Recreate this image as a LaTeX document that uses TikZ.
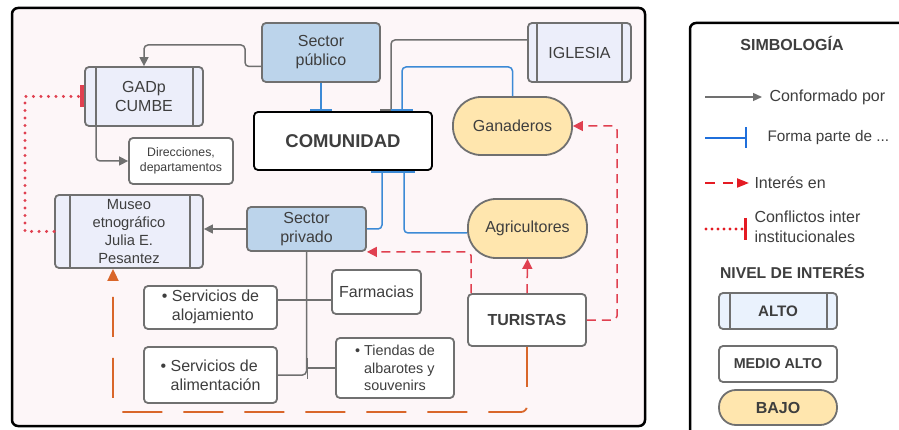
\documentclass[tikz,border=0pt]{standalone}
\usepackage{fontspec}
\setmainfont{Liberation Sans}
\usetikzlibrary{arrows.meta}
\definecolor{txt}{HTML}{3E3E3E}
\definecolor{bord}{HTML}{707070}
\definecolor{bgpink}{HTML}{FDF6F8}
\definecolor{pubblue}{HTML}{BCD4EB}
\definecolor{lav}{HTML}{ECEEFA}
\definecolor{yel}{HTML}{FFE6AE}
\definecolor{lnblue}{HTML}{3C8AD6}
\definecolor{intred}{HTML}{E04050}
\definecolor{orng}{HTML}{D9662A}
\definecolor{legblue}{HTML}{1F6FDB}
\definecolor{legred}{HTML}{E41B23}
\definecolor{altofill}{HTML}{EAF2FD}
\begin{document}
\begin{tikzpicture}[x=1pt,y=-1pt,
  font=\fontsize{16}{19}\selectfont, text=txt,
  box/.style={draw=bord, line width=1.8pt, rounded corners=4pt, inner sep=0pt, align=center},
  pubbox/.style={box, fill=pubblue},
  lavbox/.style={box, fill=lav},
  whitebox/.style={box, fill=white},
  pill/.style={box, fill=yel, rounded corners=28pt},
  conn/.style={draw=bord, line width=1.5pt, rounded corners=4pt, -{Triangle[length=9pt,width=9pt]}},
  gline/.style={draw=bord, line width=1.5pt, rounded corners=4pt},
  bline/.style={draw=lnblue, line width=1.5pt, rounded corners=4pt, -{Bar[width=22pt,line width=2pt]}},
  intr/.style={draw=intred, line width=1.5pt, dash pattern=on 9pt off 6pt, rounded corners=4pt, -{Triangle[length=10pt,width=10pt]}},
  orngln/.style={draw=orng, line width=1.8pt, dash pattern=on 40pt off 21pt, rounded corners=6pt, -{Triangle[length=12pt,width=11pt]}},
  conf/.style={draw=intred, line width=3.3pt, line cap=round, dash pattern=on 0pt off 7.5pt, -{Bar[width=22pt,line width=4pt]}},
  bigframe/.style={draw=black, line width=2.5pt, rounded corners=6pt}
]
\useasboundingbox (0,0) rectangle (899,430);
\clip (0,0) rectangle (899,430);
\fill[white] (0,0) rectangle (899,430);
\draw[bigframe, fill=bgpink] (12,8) rectangle (645,426);
\draw[bigframe, fill=white] (690,23) rectangle (920,450);

% ---- nodes ----
\node[pubbox, minimum width=118pt, minimum height=59pt] (spub) at (321,52.5) {Sector\\público};
\node[lavbox, minimum width=118pt, minimum height=59pt] (gad) at (144,96.5) {GADp\\CUMBE};
\node[whitebox, minimum width=104pt, minimum height=46pt, font=\fontsize{12.3}{15}\selectfont] (dir) at (181,161) {Direcciones,\\departamentos};
\node[lavbox, minimum width=148pt, minimum height=73pt, font=\fontsize{14.7}{17.7}\selectfont] (museo) at (129,231.5) {Museo\\etnográfico\\Julia E.\\Pesantez};
\node[whitebox, draw=black, minimum width=178pt, minimum height=58pt, font=\bfseries\fontsize{18.5}{22}\selectfont] (com) at (343,141) {COMUNIDAD};
\node[lavbox, minimum width=103pt, minimum height=59pt] (igl) at (579.5,52.5) {IGLESIA};
\node[pill, minimum width=119pt, minimum height=58pt] (gan) at (512.5,126) {Ganaderos};
\node[pill, minimum width=119pt, minimum height=59pt] (agr) at (527.5,228.5) {Agricultores};
\node[pubbox, minimum width=119pt, minimum height=44pt] (spriv) at (306.5,229) {\raisebox{-4pt}{\begin{tabular}{@{}c@{}}Sector\\privado\end{tabular}}};
\node[whitebox, minimum width=89pt, minimum height=44pt] (farm) at (376.5,292) {Farmacias};
\node[whitebox, minimum width=118pt, minimum height=60pt, align=left, font=\fontsize{14.4}{17.7}\selectfont] (tiend) at (395,368) {• Tiendas de\\\phantom{• }albarotes y\\\phantom{• }souvenirs};
\node[whitebox, minimum width=118pt, minimum height=52pt, font=\bfseries\fontsize{16}{19}\selectfont] (tur) at (527,320) {TURISTAS};
\node[whitebox, minimum width=133pt, minimum height=43pt] (aloj) at (210.5,307.5) {\raisebox{-4pt}{\begin{tabular}{@{}l@{}}• Servicios de\\\phantom{• }alojamiento\end{tabular}}};
\node[whitebox, minimum width=133pt, minimum height=56pt, align=left] (alim) at (210.5,375) {• Servicios de\\\phantom{• }alimentación};

% inner bars of the "alto" boxes
\draw[bord, line width=1.8pt] ([xshift=12pt]gad.north west) -- ([xshift=12pt]gad.south west);
\draw[bord, line width=1.8pt] ([xshift=-11pt]gad.north east) -- ([xshift=-11pt]gad.south east);
\draw[bord, line width=1.8pt] ([xshift=16pt]museo.north west) -- ([xshift=16pt]museo.south west);
\draw[bord, line width=1.8pt] ([xshift=-14pt]museo.north east) -- ([xshift=-14pt]museo.south east);
\draw[bord, line width=1.8pt] ([xshift=10pt]igl.north west) -- ([xshift=10pt]igl.south west);
\draw[bord, line width=1.8pt] ([xshift=-10pt]igl.north east) -- ([xshift=-10pt]igl.south east);

% ---- helper coordinates ----
\coordinate (cA) at (245,45);
\coordinate (cIg) at (391,0);
\coordinate (cG) at (402,67);
\coordinate (cB1) at (382,0);
\coordinate (cB2) at (404,0);
\coordinate (cR) at (617,0);
\coordinate (cO) at (113,412);
\coordinate (cD) at (25,0);

% ---- connectors ----
\draw[conn] ([yshift=-14pt]spub.west) -| (cA) -| (gad.north);
\draw[conn] ([xshift=12pt]gad.south west) |- (dir.west);
\draw[conn] (spriv.west) -- (museo.east |- spriv.west);

\draw[bline] (spub.south) -- (com.north -| spub.south);
\draw[gline, -{Bar[width=22pt,line width=2pt]}] ([yshift=12.5pt]igl.west) -| (com.north -| cIg);
\draw[bline] (gan.north) |- (cG) -- (com.north -| cG);
\draw[bline] (spriv.east) -| (com.south -| cB1);
\draw[bline] ([yshift=-4.5pt]agr.west) -| (com.south -| cB2);

\draw[gline] (spriv.south) |- (alim.east);
\draw[gline] ([yshift=7.5pt]aloj.east) -- ([yshift=-8pt]farm.west);
\draw[gline, -{Bar[width=21pt,line width=1.5pt]}] (tiend.west) -- (spriv.south |- tiend.west);

\draw[intr] (tur.east) -| (gan.east -| cR) -- (gan.east);
\draw[intr] (tur.north) -- (agr.south);
\draw[intr] ([xshift=4pt]tur.north west) |- (spriv.south east);

\draw[orngln] (tur.south) |- (cO) -- (museo.south -| cO);

\draw[conf] (museo.west) -| (gad.west -| cD) -- (gad.west);

% ---- legend ----
\node[font=\bfseries\fontsize{16}{19}\selectfont] (simb) at (792,43) {SIMBOLOGÍA};

\coordinate (l1a) at (705,97); \coordinate (l1b) at (762,97);
\draw[draw=bord, line width=1.3pt, -{Triangle[length=9pt,width=8pt]}] (l1a) -- (l1b);
\node[anchor=west] (l1t) at (766,97) {Conformado por};

\coordinate (l2a) at (705,138); \coordinate (l2b) at (747,138);
\draw[draw=legblue, line width=2pt, -{Bar[width=21pt,line width=2.5pt]}] (l2a) -- (l2b);
\node[anchor=west, font=\fontsize{15.3}{19}\selectfont] (l2t) at (764,138) {Forma parte de ...};

\coordinate (l3a) at (705,183); \coordinate (l3b) at (749,183);
\draw[draw=legred, line width=2pt, dash pattern=on 10pt off 8pt, -{Triangle[length=12pt,width=9pt]}] (l3a) -- (l3b);
\node[anchor=west] (l3t) at (751,183) {Interés en};

\coordinate (l4a) at (706,229); \coordinate (l4b) at (747,229);
\draw[draw=legred, line width=3.3pt, line cap=round, dash pattern=on 0pt off 6pt, -{Bar[width=22pt,line width=3.5pt]}] (l4a) -- (l4b);
\node[anchor=west, align=left, font=\fontsize{16}{20}\selectfont] (l4t) at (751,227) {Conflictos inter\\institucionales};

\node[font=\bfseries\fontsize{15.7}{19}\selectfont] (niv) at (792.5,272) {NIVEL DE INTERÉS};

\node[box, fill=altofill, minimum width=118pt, minimum height=36pt, font=\bfseries\fontsize{15.2}{18}\selectfont] (alto) at (778,311) {ALTO};
\draw[bord, line width=1.8pt] ([xshift=12pt]alto.north west) -- ([xshift=12pt]alto.south west);
\draw[bord, line width=1.8pt] ([xshift=-11pt]alto.north east) -- ([xshift=-11pt]alto.south east);
\node[whitebox, minimum width=118pt, minimum height=36pt, font=\bfseries\fontsize{14.3}{17}\selectfont] (medio) at (778,364) {MEDIO ALTO};
\node[pill, rounded corners=17pt, minimum width=118pt, minimum height=35pt, font=\bfseries\fontsize{16}{19}\selectfont] (bajo) at (778,407.5) {BAJO};
\end{tikzpicture}
\end{document}
